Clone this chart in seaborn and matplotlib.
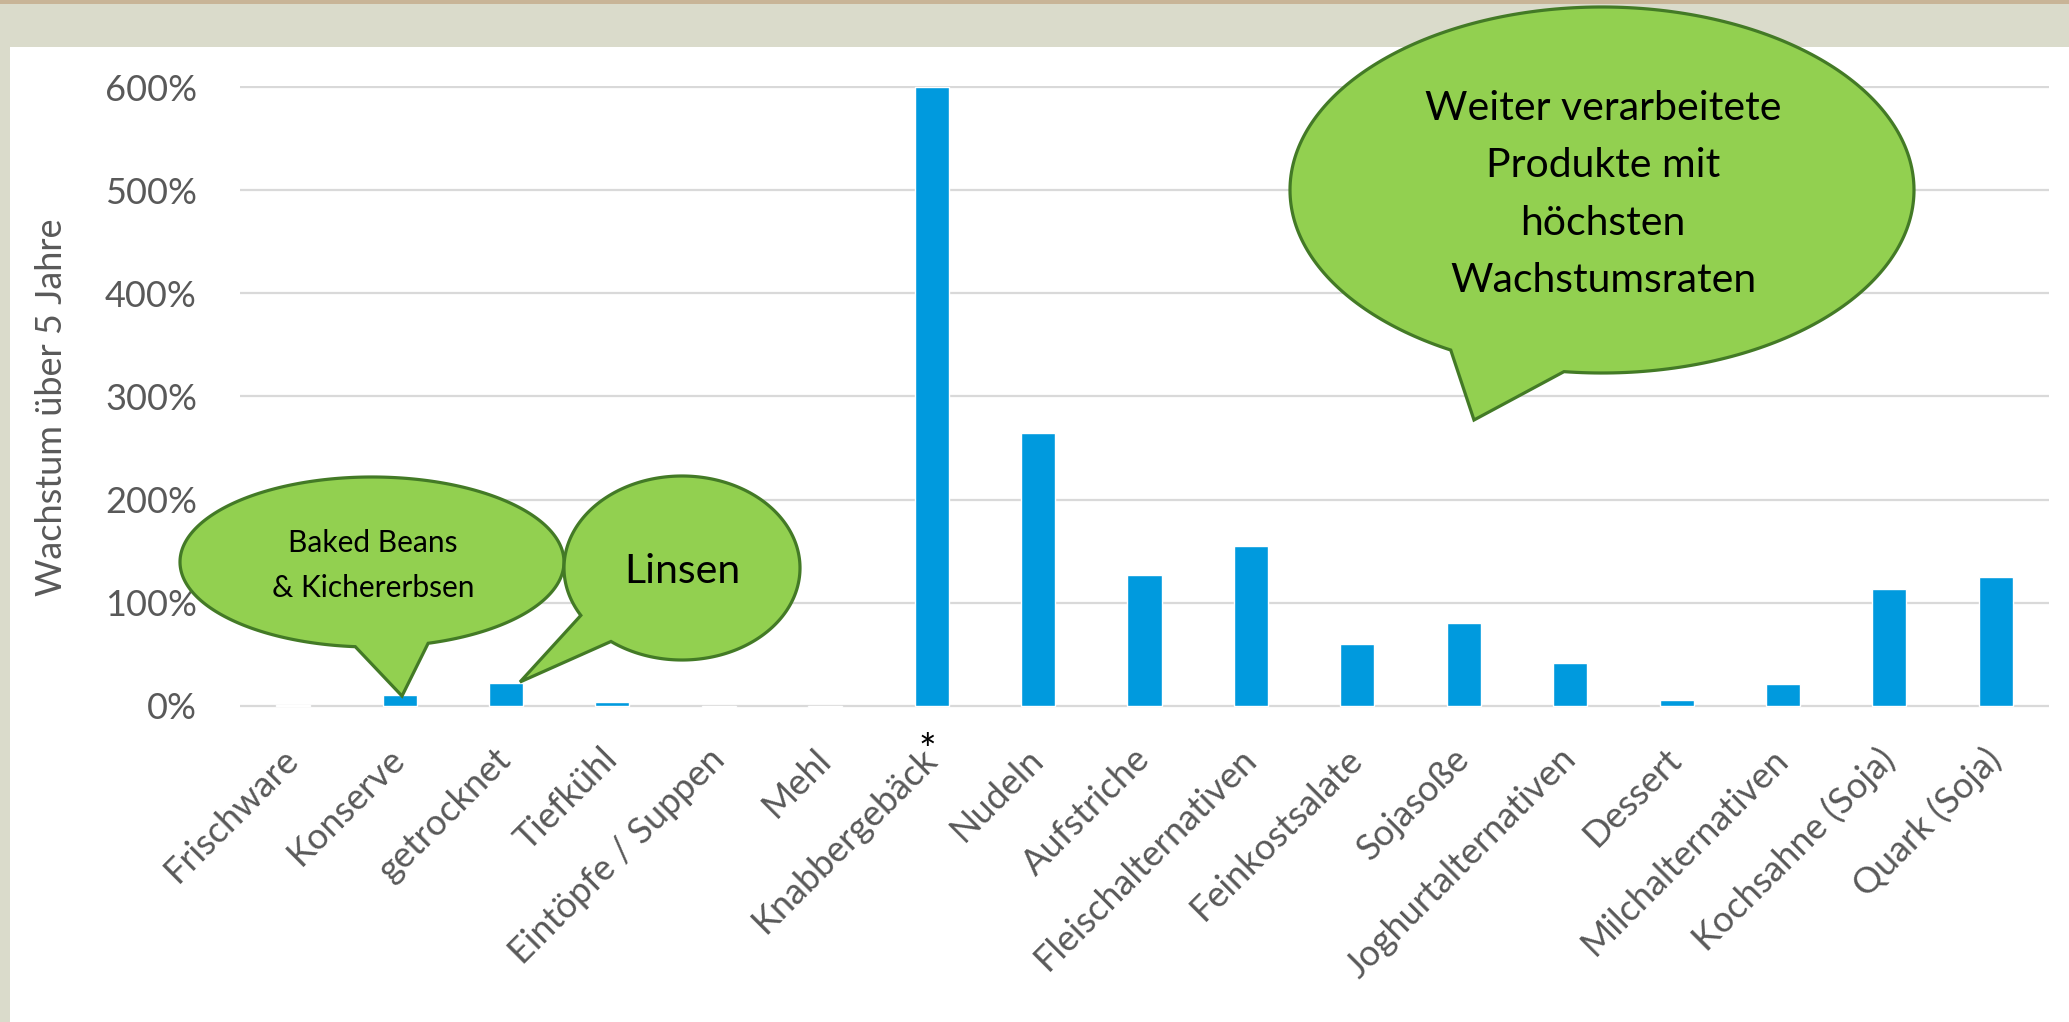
import numpy as np
import pandas as pd
import matplotlib
matplotlib.use('Agg')
import matplotlib.pyplot as plt
from matplotlib.patches import Polygon, Rectangle
from matplotlib.ticker import FuncFormatter
from matplotlib.transforms import blended_transform_factory
import seaborn as sns


    # data (Wachstum in %)

kategorien = ['Frischware', 'Konserve', 'getrocknet', 'Tiefkühl', 'Eintöpfe / Suppen',
              'Mehl', 'Knabbergebäck', 'Nudeln', 'Aufstriche', 'Fleischalternativen',
              'Feinkostsalate', 'Sojasoße', 'Joghurtalternativen', 'Dessert',
              'Milchalternativen', 'Kochsahne (Soja)', 'Quark (Soja)']
wachstum = [0.5, 11, 22, 4, -1.5, -1.5, 600, 265, 127, 155, 60, 80, 42, 5.5, 21.5, 113, 125]
y_ticks = [0, 100, 200, 300, 400, 500, 600]

df = pd.DataFrame({'kategorie': kategorien, 'wachstum': wachstum})

W, H = 2069, 1022
bar_col = '#009ADE'
green = '#92D050'
green_edge = '#437A26'
grey_txt = '#595959'

sns.set_theme(style='white')
plt.rcParams['font.family'] = ['Lato', 'DejaVu Sans']

fig = plt.figure(figsize=(W / 100, H / 100), dpi=100)
fig.patch.set_facecolor('#DADBCB')

def px(x, y):
    # pixel coords (origin top left) -> figure fraction
    return (x / W, 1 - y / H)

# slide background: white panel + brown strip on top
fig.add_artist(Rectangle(px(10, H), 1, 1 - 47 / H, transform=fig.transFigure,
                         facecolor='white', edgecolor='none', zorder=0))
fig.add_artist(Rectangle(px(0, 4), 1, 4 / H, transform=fig.transFigure,
                         facecolor='#C8B497', edgecolor='none', zorder=0))

ax = fig.add_axes([240 / W, (H - 708) / H, (2049 - 240) / W, (708 - 86) / H])
ax.set_facecolor('none')

sns.barplot(data=df, x='kategorie', y='wachstum', color=bar_col, saturation=1,
            width=0.32, ax=ax, zorder=3)

ax.set_ylim(-2, 601)
ax.set_xlim(-0.5, len(kategorien) - 0.5)
ax.set_yticks(y_ticks)
ax.yaxis.set_major_formatter(FuncFormatter(lambda v, p: f'{v:.0f}%'))
ax.grid(axis='y', color='#D9D9D9', linewidth=1.6, zorder=0)
for s in ax.spines.values():
    s.set_visible(False)
ax.set_xlabel('')
ax.set_ylabel('')
ax.tick_params(axis='y', length=0, pad=31, labelsize=26, labelcolor=grey_txt)
ax.tick_params(axis='x', length=0, pad=33, labelsize=26, labelcolor=grey_txt)
ax.set_xticks(range(len(kategorien)))
ax.set_xticklabels(kategorien, rotation=45, ha='right', va='center', rotation_mode='anchor')

fig.text(*px(52, 407), 'Wachstum über 5 Jahre', rotation=90, ha='center', va='center',
         fontsize=26, color=grey_txt)

# asterisk under Knabbergebäck
trans = blended_transform_factory(ax.transData, fig.transFigure)
ax.text(kategorien.index('Knabbergebäck') - 0.04, px(0, 752)[1], '*', transform=trans,
        ha='center', va='center', fontsize=30, color='black')


    # speech bubbles

def bubble(cx, cy, a, b, ang1, ang2, tip):
    lo, hi = sorted([np.radians(ang1), np.radians(ang2)])
    t = np.linspace(hi, lo + 2 * np.pi, 300)
    pts = [px(cx + a * np.cos(tt), cy + b * np.sin(tt)) for tt in t]
    pts.append(px(*tip))
    fig.add_artist(Polygon(pts, closed=True, transform=fig.transFigure, facecolor=green,
                           edgecolor=green_edge, linewidth=2.3, zorder=10))

bubble(372, 562, 192, 85, 73, 95, (402, 696))
bubble(682, 568, 118, 92, 127, 149, (520, 682))
bubble(1602, 190, 312, 183, 97, 119, (1474, 420))

txt = dict(ha='center', va='baseline', color='black', zorder=11)
fig.text(*px(373, 552), 'Baked Beans', fontsize=21.5, **txt)
fig.text(*px(373, 597), '& Kichererbsen', fontsize=21.5, **txt)
fig.text(*px(682, 583), 'Linsen', fontsize=29.5, **txt)
for yy, line in zip([120, 177, 235, 292],
                    ['Weiter verarbeitete', 'Produkte mit', 'höchsten', 'Wachstumsraten']):
    fig.text(*px(1603, yy), line, fontsize=29.5, **txt)

fig.savefig('out.png', dpi=100, facecolor=fig.get_facecolor())
